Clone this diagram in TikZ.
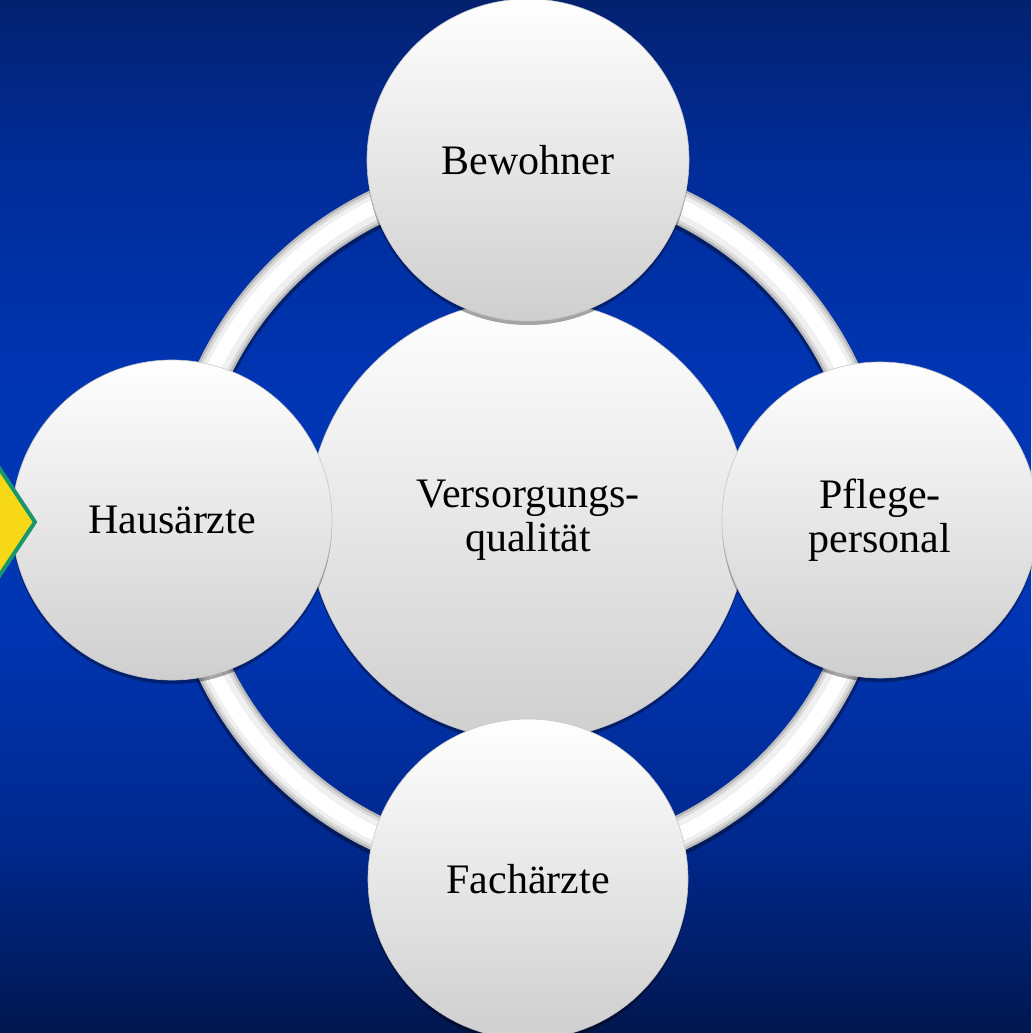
\documentclass[tikz,border=0pt]{standalone}
\usepackage{fontspec}
\setmainfont{Liberation Serif}
\usetikzlibrary{shadows}
\definecolor{bgtop}{RGB}{4,33,112}
\definecolor{bgupper}{RGB}{0,44,152}
\definecolor{bgmid}{RGB}{0,53,180}
\definecolor{bglower}{RGB}{0,40,140}
\definecolor{bgbot}{RGB}{0,22,78}
\definecolor{signyellow}{RGB}{246,216,22}
\definecolor{signgreen}{RGB}{24,150,108}
% the middle 50bp of the 100bp shading cover the filled area
\pgfdeclareverticalshading{backdrop}{100bp}{
  color(0bp)=(bgbot); color(25bp)=(bgbot); color(34bp)=(bglower);
  color(45bp)=(bgmid); color(56bp)=(bgmid); color(67bp)=(bgupper);
  color(75bp)=(bgtop); color(100bp)=(bgtop)}
\tikzset{
  ball/.style={circle, minimum size=#1, inner sep=0pt, align=center,
    top color=white, bottom color=gray!38, draw=gray!45, line width=0.6pt,
    font=\fontsize{42}{44}\selectfont,
    drop shadow={shadow xshift=0pt, shadow yshift=-4pt, opacity=0.35, fill=black}},
  sign/.style={fill=signyellow, draw=signgreen, line width=4pt, line join=miter}
}
\begin{document}
\begin{tikzpicture}[x=1pt,y=-1pt]
  % backdrop
  \shade[shading=backdrop] (0,0) rectangle (1031,1033);
  \useasboundingbox (0,0) rectangle (1031,1033);

  \coordinate (mid) at (528,520);

  % ring behind the circles
  \draw[black, opacity=0.35, line width=38pt] ([yshift=-3pt]mid) circle[radius=348pt];
  \draw[gray!55, line width=35pt] (mid) circle[radius=348pt];
  \draw[gray!30, line width=30pt] (mid) circle[radius=348pt];
  \draw[gray!12, line width=24pt] (mid) circle[radius=348pt];
  \draw[white, line width=14pt] (mid) circle[radius=349pt];

  % central circle
  \node[ball=440pt] (vq) at (mid) {Versorgungs-\\qualität};

  % outer circles
  \node[ball=322pt] (bew) at (528,160) {Bewohner};
  \node[ball=320pt] (fach) at (528,879) {Fachärzte};
  \node[ball=320pt] (haus) at (172,520) {Hausärzte};
  \node[ball=316pt] (pfl) at (880,520) {Pflege-\\personal};

  % yellow sign at the left edge
  \draw[sign] (35,522) -- (-40,409) -- (-115,522) -- (-40,635) -- cycle;
\end{tikzpicture}
\end{document}
